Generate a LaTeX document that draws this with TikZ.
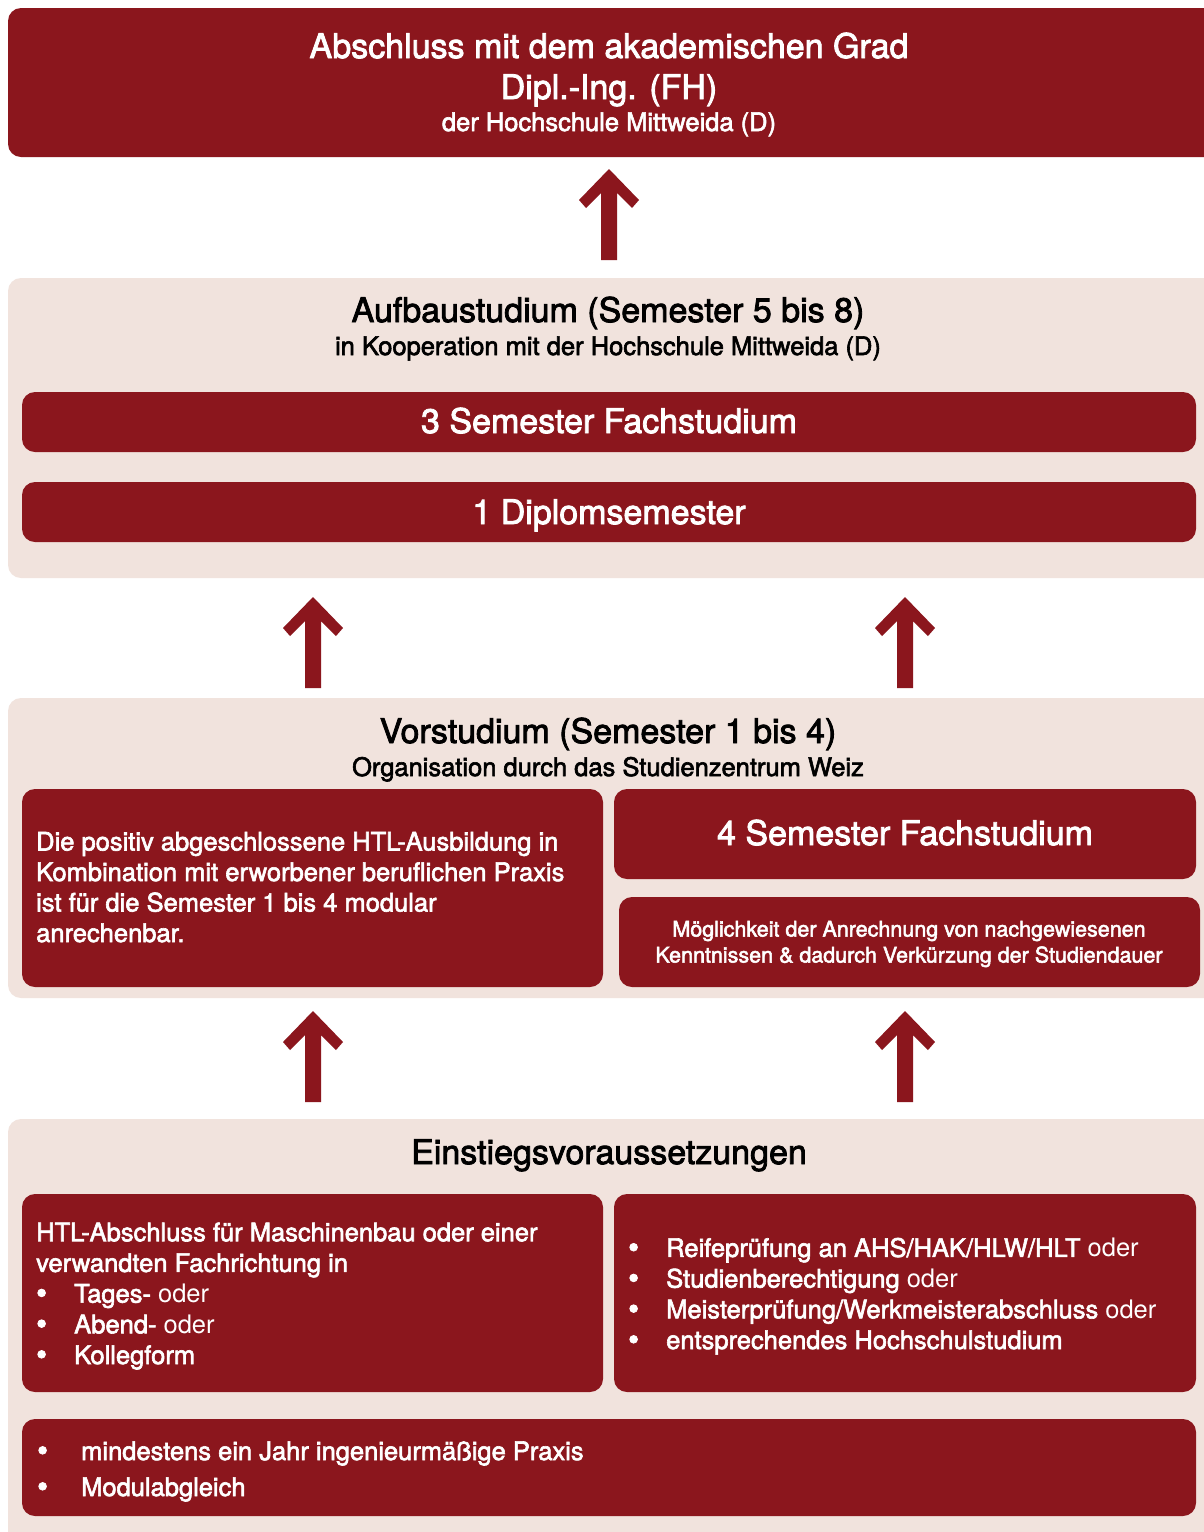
\documentclass[tikz,border=0pt]{standalone}
\usepackage{fontspec}
\setmainfont{TeX Gyre Heros}[UprightFeatures={FakeBold=2.4}]
\newfontfamily\odr{TeX Gyre Heros}
\definecolor{dred}{HTML}{8B161D}
\definecolor{lpink}{HTML}{F1E3DD}
\newcommand\fs[1]{\fontsize{#1}{#1}\selectfont}
\newcommand\bigup[2]{%
  \fill[dred] (#1,#2) -- ++(30,31) -- ++(-7,8) -- ++(-15,-15) -- ++(0,67) -- ++(-16,0) -- ++(0,-67) -- ++(-15,15) -- ++(-7,-8) -- cycle;}
\newcommand\bul[1]{\makebox[#1][l]{\hspace{0pt}\raisebox{-1pt}{\fontsize{31}{31}\selectfont •}}}
\begin{document}
\begin{tikzpicture}[x=1pt,y=-1pt,
  darkbox/.style={fill=dred,rounded corners=13pt},
  lightbox/.style={fill=lpink,rounded corners=13pt},
  wt/.style={text=white,inner sep=0pt},
  bt/.style={text=black,inner sep=0pt}]
\useasboundingbox (0,0) rectangle (1204,1532);
\fill[white] (0,0) rectangle (1204,1532);
% top
\fill[darkbox] (8,8) rectangle (1230,157);
\node[wt,anchor=base] (t1) at (609,58) {\fs{34}Abschluss mit dem akademischen Grad};
\node[wt,anchor=base] (t2) at (609,99) {\fs{34}Dipl.-Ing. (FH)};
\node[wt,anchor=base] (t3) at (609,131) {\fs{25.5}der Hochschule Mittweida (D)};
\bigup{609}{169}
% Aufbau
\fill[lightbox] (8,278) rectangle (1230,578);
\node[bt,anchor=base] (a1) at (608,322) {\fs{34}Aufbaustudium (Semester 5 bis 8)};
\node[bt,anchor=base] (a2) at (608,355) {\fs{25.5}in Kooperation mit der Hochschule Mittweida (D)};
\fill[darkbox] (22,392) rectangle (1196,452);
\node[wt,anchor=base] (a3) at (609,433) {\fs{34}3 Semester Fachstudium};
\fill[darkbox] (22,482) rectangle (1196,542);
\node[wt,anchor=base] (a4) at (609,524) {\fs{34}1 Diplomsemester};
\bigup{313}{597}
\bigup{905}{597}
% Vorstudium
\fill[lightbox] (8,698) rectangle (1230,998);
\node[bt,anchor=base] (v1) at (608,743) {\fs{34}Vorstudium (Semester 1 bis 4)};
\node[bt,anchor=base] (v2) at (608,776) {\fs{25.5}Organisation durch das Studienzentrum Weiz};
\fill[darkbox] (22,789) rectangle (603,987);
\node[wt,anchor=base west,align=left,font=\fontsize{25.5}{30.5}\selectfont] (v3) at (36,942) {Die positiv abgeschlossene HTL-Ausbildung in\\Kombination mit erworbener beruflichen Praxis\\ist für die Semester 1 bis 4 modular\\anrechenbar.};
\fill[darkbox] (614,789) rectangle (1196,879);
\node[wt,anchor=base] (v4) at (905,845) {\fs{34}4 Semester Fachstudium};
\fill[darkbox] (619,897) rectangle (1200,987);
\node[wt,anchor=base,align=center,font=\fontsize{21.5}{26}\selectfont] (v5) at (909,962.5) {Möglichkeit der Anrechnung von nachgewiesenen\\Kenntnissen \& dadurch Verkürzung der Studiendauer};
\bigup{313}{1011}
\bigup{905}{1011}
% Einstieg
\fill[lightbox] (8,1119) rectangle (1230,1560);
\node[bt,anchor=base] (e1) at (609,1164) {\fs{34}Einstiegsvoraussetzungen};
\fill[darkbox] (22,1194) rectangle (603,1392);
\node[wt,anchor=base west,align=left,font=\fontsize{25.5}{30.7}\selectfont] (e2) at (36,1364) {HTL-Abschluss für Maschinenbau oder einer\\verwandten Fachrichtung in\\\bul{38pt}Tages-{\odr{} oder}\\\bul{38pt}Abend-{\odr{} oder}\\\bul{38pt}Kollegform};
\fill[darkbox] (614,1194) rectangle (1196,1392);
\node[wt,anchor=base west,align=left,font=\fontsize{25.5}{30.7}\selectfont] (e3) at (628,1349) {\bul{38pt}Reifeprüfung an AHS/HAK/HLW/HLT{\odr{} oder}\\\bul{38pt}Studienberechtigung{\odr{} oder}\\\bul{38pt}Meisterprüfung/Werkmeisterabschluss{\odr{} oder}\\\bul{38pt}entsprechendes Hochschulstudium};
\fill[darkbox] (22,1419) rectangle (1196,1516);
\node[wt,anchor=base west,align=left,font=\fontsize{25.5}{36}\selectfont] (e4) at (37,1496) {\bul{44pt}mindestens ein Jahr ingenieurmäßige Praxis\\\bul{44pt}Modulabgleich};
\end{tikzpicture}
\end{document}
